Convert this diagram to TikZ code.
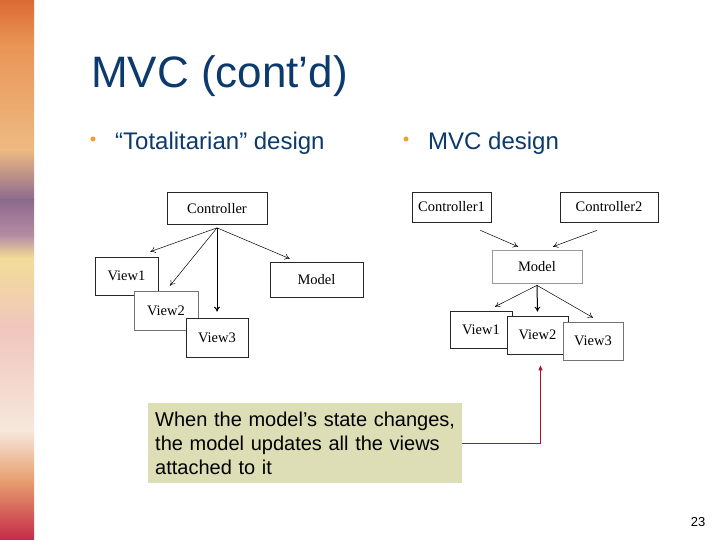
\documentclass[tikz,border=0pt]{standalone}
\usepackage{fontspec}
\setmainfont{Liberation Sans}
\newfontfamily\figfont{Liberation Serif}
\usetikzlibrary{arrows.meta,calc}
\definecolor{titleblue}{HTML}{0C3A6C}
\definecolor{dotorange}{HTML}{EFA030}
\definecolor{notefill}{HTML}{DEDEB6}
\definecolor{linkred}{HTML}{B0121F}
\definecolor{stA}{HTML}{DC6A34}
\definecolor{stB}{HTML}{E99556}
\definecolor{stC}{HTML}{EDBA82}
\definecolor{stD}{HTML}{8C6A8E}
\definecolor{stE}{HTML}{B48CA2}
\definecolor{stF}{HTML}{F2DC98}
\definecolor{stG}{HTML}{F0C6BE}
\definecolor{stH}{HTML}{F6E8DC}
\definecolor{stI}{HTML}{E8A070}
\definecolor{stJ}{HTML}{C42A48}
\begin{document}
\begin{tikzpicture}[x=1pt,y=-1pt,
    box/.style={draw=black!85,fill=white,line width=0.7pt,inner sep=0pt,
        font=\figfont\fontsize{14.5}{16}\selectfont},
    arr/.style={-{To[length=5pt,width=6pt]},line width=0.5pt},
    bullet/.style={circle,fill=dotorange,inner sep=0pt,minimum size=5pt},
    item/.style={anchor=base west,inner sep=0pt,text=titleblue,
        font=\fontsize{24}{28}\selectfont}]
    \useasboundingbox (0,0) rectangle (720,540);
    \fill[white] (0,0) rectangle (720,540);
    %% side stripe
    \foreach \ya/\yb/\ca/\cb in {0/45/stA/stB,45/150/stB/stC,150/200/stC/stD,
        200/235/stD/stE,235/258/stE/stF,258/330/stF/stG,330/430/stG/stH,
        430/480/stH/stI,480/540/stI/stJ}
        \shade[top color=\ca,bottom color=\cb] (0,\ya) rectangle (34,\yb);
    %% title and bullets
    \node[anchor=base west,inner sep=0pt,text=titleblue,
        font=\fontsize{44}{48}\selectfont] (title) at (91,88) {MVC (cont’d)};
    \node[bullet] (dot1) at (93,139) {};
    \node[item] (item1) at (115,150) {“Totalitarian” design};
    \node[bullet] (dot2) at (406,139) {};
    \node[item] (item2) at (428,150) {MVC design};
    %% totalitarian design
    \node[box,minimum width=100pt,minimum height=32pt] (ctrl) at (217,208.5) {Controller};
    \node[box,minimum width=93pt,minimum height=35pt] (lmodel) at (316.5,279.5) {Model};
    \node[box,minimum width=63pt,minimum height=38pt] (lv1) at (126.5,276) {View1};
    \node[box,draw=black!55,minimum width=64pt,minimum height=39pt] (lv2) at (166,310.5) {View2};
    \node[box,minimum width=62pt,minimum height=39pt] (lv3) at (217,337.5) {View3};
    \coordinate (lsrc) at ([yshift=-3pt]ctrl.south);
    \draw[arr] (lsrc) -- ($(lv1.north east)+(-8,-5)$);
    \draw[arr] (lsrc) -- ($(lv2.north)+(4,-5)$);
    \draw[arr,line width=1pt] (lsrc) -- ($(lv3.north)+(0,-6)$);
    \draw[arr] (lsrc) -- ($(lmodel.north west)+(20,-3)$);
    %% mvc design
    \node[box,minimum width=79pt,minimum height=30pt] (ctrl1) at (451.5,207) {Controller1};
    \node[box,minimum width=98pt,minimum height=30pt] (ctrl2) at (609,207) {Controller2};
    \node[box,draw=black!40,minimum width=90pt,minimum height=33pt] (rmodel) at (537,266.5) {Model};
    \node[box,minimum width=62pt,minimum height=37pt] (rv1) at (481,329.5) {View1};
    \node[box,minimum width=61pt,minimum height=38pt] (rv2) at (537.5,335) {View2};
    \node[box,draw=black!55,minimum width=60pt,minimum height=38pt] (rv3) at (593,341) {View3};
    \draw[arr] ($(ctrl1.south east)+(-11,8)$) -- ($(rmodel.north)+(-19,-3)$);
    \draw[arr] ($(ctrl2.south)+(-12,8)$) -- ($(rmodel.north)+(16,-3)$);
    \coordinate (rsrc) at ([yshift=-2pt]rmodel.south);
    \draw[arr] (rsrc) -- ($(rv1.north)+(14,-4)$);
    \draw[arr,line width=1pt] (rsrc) -- ($(rv2.north)+(0,-4)$);
    \draw[arr] (rsrc) -- ($(rv3.north)+(0,-4)$);
    %% note
    \node[anchor=north west,fill=notefill,text width=300pt,inner xsep=7pt,inner ysep=0pt,
        minimum height=80pt,align=left,font=\fontsize{20}{24}\selectfont] (note) at (148,403)
        {When the model’s state changes, the model updates all the views attached to it};
    \draw[linkred,line width=1pt,-{Triangle[length=5pt,width=4pt]}]
        (note.east) -| ($(rv2.south)+(3,11)$);
    \node[font=\fontsize{13}{15}\selectfont] (page) at (698,522) {23};
\end{tikzpicture}
\end{document}
